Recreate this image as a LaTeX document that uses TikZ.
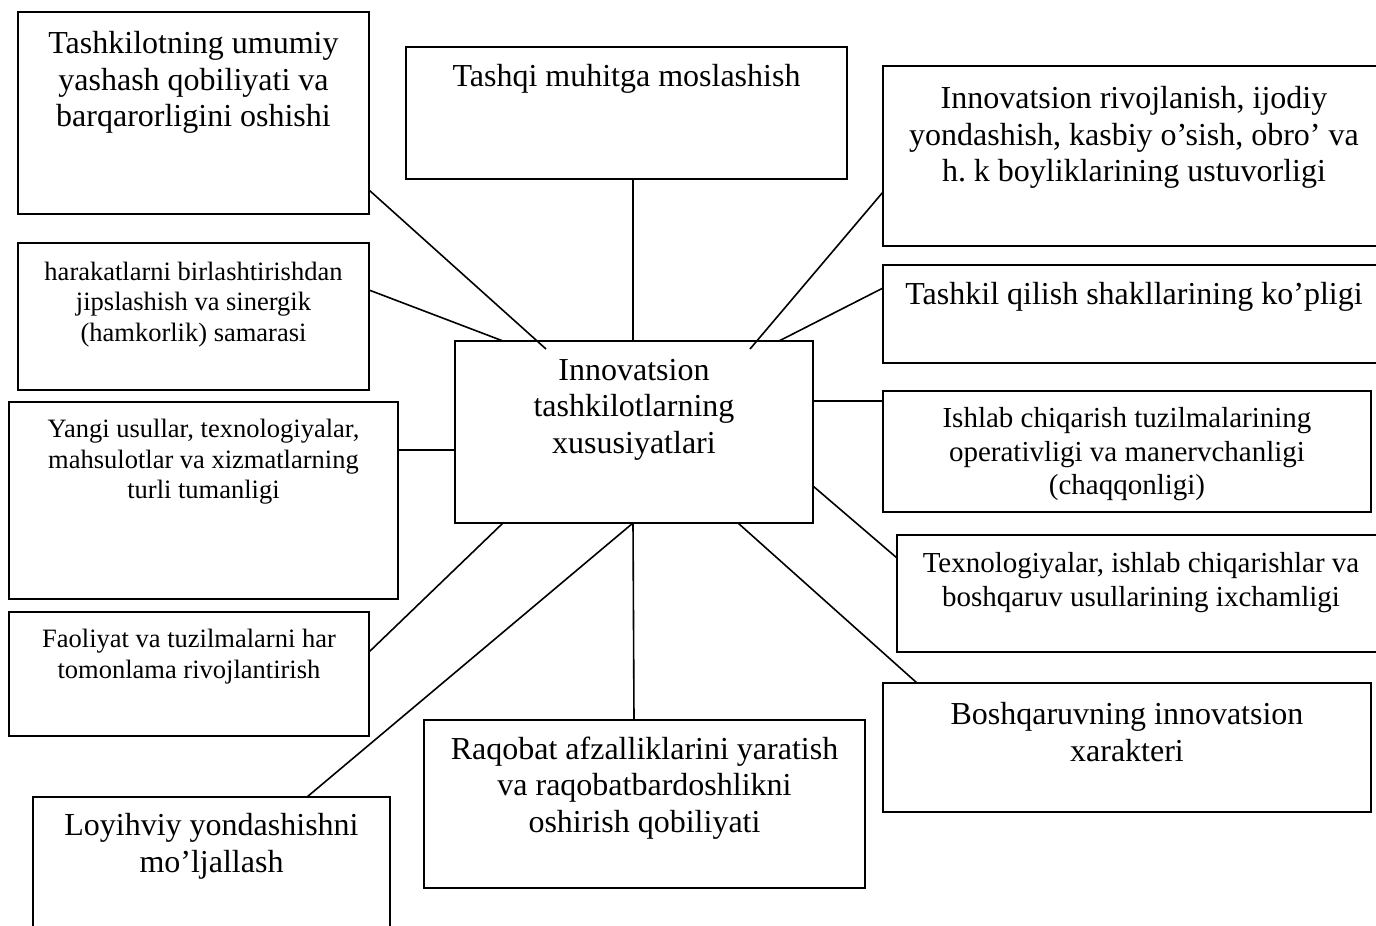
\documentclass[tikz,border=0pt]{standalone}
\usepackage{fontspec}
\setmainfont{Liberation Serif}
\usetikzlibrary{calc}
\frenchspacing
\tikzset{
  box/.style={draw, line width=1.8pt, rectangle, inner sep=0pt, outer sep=0pt, anchor=north west},
  link/.style={line width=1.6pt},
  txt/.style={align=center, anchor=north, inner sep=0pt, outer sep=0pt},
  big/.style={txt, font=\fontsize{32}{36.8}\selectfont},
  mid/.style={txt, font=\fontsize{29}{33.4}\selectfont},
  small/.style={txt, font=\fontsize{26.5}{30.5}\selectfont},
}
\begin{document}
\begin{tikzpicture}[x=1pt, y=-1pt]
\useasboundingbox (0,0) rectangle (1376,926);
\clip (0,0) rectangle (1376,926);

% central box
\node[box, minimum width=358pt, minimum height=182pt] (c) at (455,341) {};
\node[big] (tc) at ($(c.north)+(0,18)$) {Innovatsion\\tashkilotlarning\\xususiyatlari};

% surrounding boxes
\node[box, minimum width=351pt, minimum height=202pt] (b1) at (18,12) {};
\node[big] (t1) at ($(b1.north)+(0,19)$) {Tashkilotning umumiy\\yashash qobiliyati va\\barqarorligini oshishi};

\node[box, minimum width=351pt, minimum height=147pt] (b2) at (18,243) {};
\node[small] (t2) at ($(b2.north)+(0,19)$) {harakatlarni birlashtirishdan\\jipslashish va sinergik\\(hamkorlik) samarasi};

\node[box, minimum width=441pt, minimum height=132pt] (b3) at (406,47) {};
\node[big] (t3) at ($(b3.north)+(0,17)$) {Tashqi muhitga moslashish};

\node[box, minimum width=502pt, minimum height=180pt] (b4) at (883,66) {};
\node[big] (t4) at ($(b4.north)+(0,20)$) {Innovatsion rivojlanish, ijodiy\\yondashish, kasbiy o’sish, obro’ va\\h. k boyliklarining ustuvorligi};

\node[box, minimum width=502pt, minimum height=98pt] (b5) at (883,265) {};
\node[big] (t5) at ($(b5.north)+(0,17)$) {Tashkil qilish shakllarining ko’pligi};

\node[box, minimum width=488pt, minimum height=121pt] (b6) at (883,391) {};
\node[mid] (t6) at ($(b6.north)+(0,16.5)$) {Ishlab chiqarish tuzilmalarining\\operativligi va manervchanligi\\(chaqqonligi)};

\node[box, minimum width=488pt, minimum height=117pt] (b7) at (897,535) {};
\node[mid] (t7) at ($(b7.north)+(0,17.5)$) {Texnologiyalar, ishlab chiqarishlar va\\boshqaruv usullarining ixchamligi};

\node[box, minimum width=488pt, minimum height=129pt] (b8) at (883,683) {};
\node[big] (t8) at ($(b8.north)+(0,19)$) {Boshqaruvning innovatsion\\xarakteri};

\node[box, minimum width=389pt, minimum height=197pt] (b9) at (9,402) {};
\node[small] (t9) at ($(b9.north)+(0,17.5)$) {Yangi usullar, texnologiyalar,\\mahsulotlar va xizmatlarning\\turli tumanligi};

\node[box, minimum width=360pt, minimum height=124pt] (b10) at (9,612) {};
\node[small] (t10) at ($(b10.north)+(0,17.5)$) {Faoliyat va tuzilmalarni har\\tomonlama rivojlantirish};

\node[box, minimum width=357pt, minimum height=140pt] (b11) at (33,797) {};
\node[big] (t11) at ($(b11.north)+(0,16)$) {Loyihviy yondashishni\\mo’ljallash};

\node[box, minimum width=441pt, minimum height=168pt] (b12) at (424,720) {};
\node[big] (t12) at ($(b12.north)+(0,16.5)$) {Raqobat afzalliklarini yaratish\\va raqobatbardoshlikni\\oshirish qobiliyati};

% connectors
\draw[link] ($(b1.north east)+(0,178)$) -- ($(c.north west)+(91,8)$);
\draw[link] ($(b2.north east)+(0,47)$) -- ($(c.north west)+(48,0)$);
\draw[link] ($(b3.south west)+(227,0)$) -- ($(c.north west)+(178,0)$);
\draw[link] ($(b4.north west)+(0,126)$) -- ($(c.north west)+(295,8)$);
\draw[link] ($(b5.north west)+(0,23)$) -- ($(c.north west)+(324,0)$);
\draw[link] ($(c.north east)+(0,60)$) -- ($(b6.north west)+(0,10)$);
\draw[link] ($(c.north east)+(0,145)$) -- ($(b7.north west)+(0,23)$);
\draw[link] ($(c.south west)+(283,0)$) -- ($(b8.north west)+(34,0)$);
\draw[link] ($(b9.north east)+(0,48)$) -- ($(c.north west)+(0,109)$);
\draw[link] ($(b10.north east)+(0,40)$) -- ($(c.south west)+(48,0)$);
\draw[link] ($(b11.north west)+(274,0)$) -- ($(c.south west)+(178,0)$);
\draw[link] ($(c.south west)+(178,0)$) -- ($(b12.north west)+(210,0)$);
\end{tikzpicture}
\end{document}
